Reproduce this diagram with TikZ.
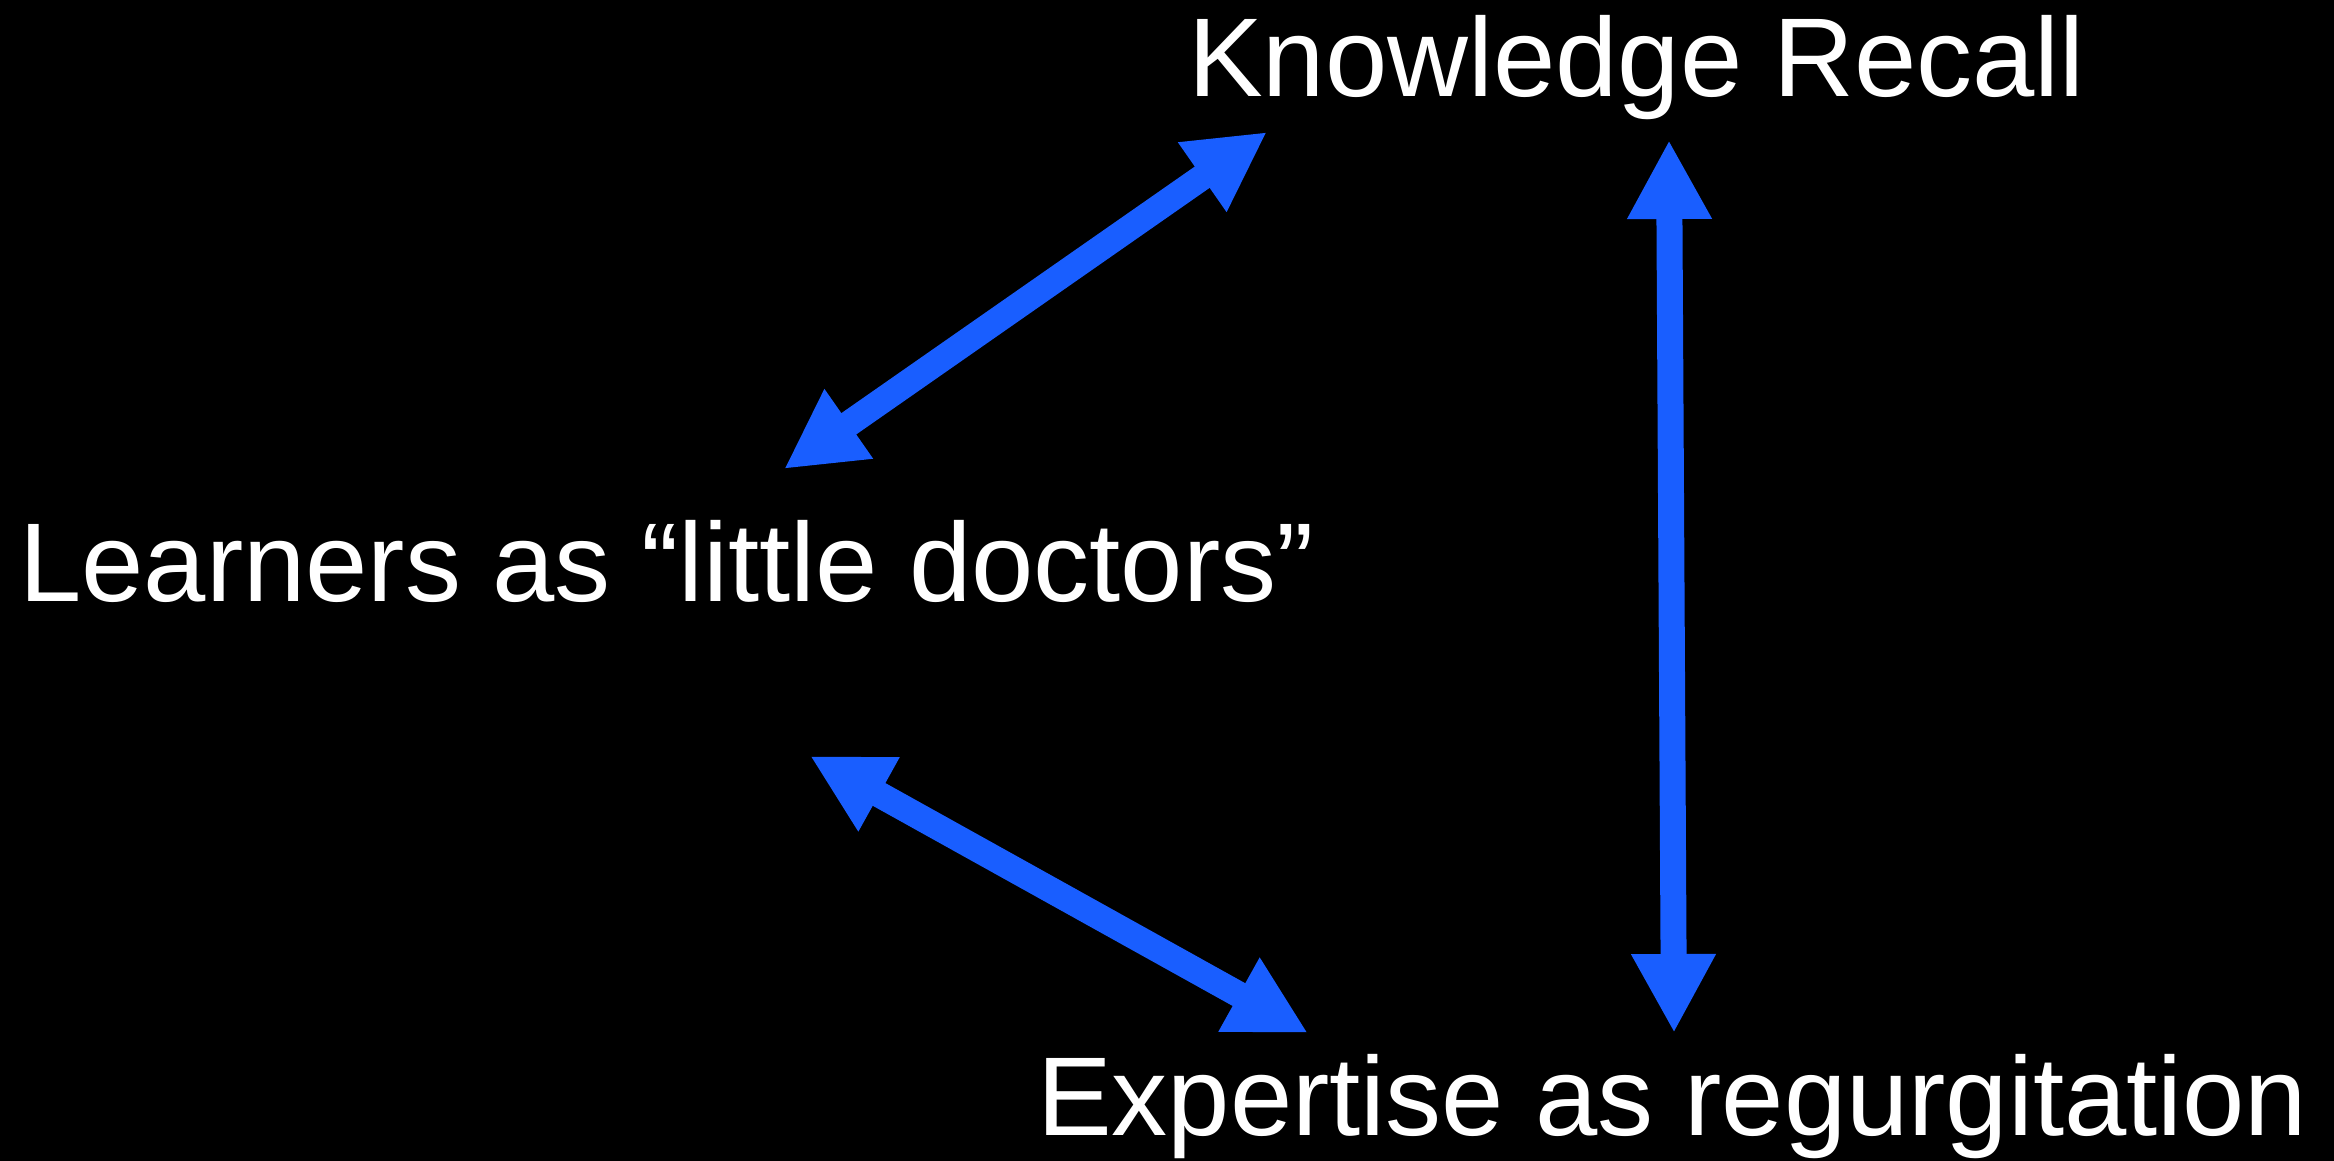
\documentclass[tikz,border=0pt]{standalone}
\usepackage{fontspec}
\setmainfont{Liberation Sans}
\usetikzlibrary{arrows.meta}
\definecolor{arrowblue}{RGB}{25,94,255}
\begin{document}
\begin{tikzpicture}[x=1pt,y=-1pt,
  lbl/.style={text=white, font=\fontsize{112}{134}\selectfont, inner sep=0pt, anchor=base west},
  link/.style={draw=arrowblue, line width=26pt,
    {Triangle[width=79pt,length=79pt]}-{Triangle[width=79pt,length=79pt]}}]
\fill[black] (0,0) rectangle (2334,1161);
\useasboundingbox (0,0) rectangle (2334,1161);
\node[lbl] (kr) at (1188,97) {Knowledge Recall};
\node[lbl] (ld) at (19,601) {Learners as “little doctors”};
\node[lbl] (er) at (1037,1135) {Expertise as regurgitation};
\coordinate (ldUp) at (784,469);
\coordinate (krLeft) at (1267,132);
\coordinate (krDown) at (1669,140);
\coordinate (erUp) at (1674,1033);
\coordinate (ldDown) at (810,756);
\coordinate (erLeft) at (1308,1033);
\draw[link] (ldUp) -- (krLeft);
\draw[link] (krDown) -- (erUp);
\draw[link] (ldDown) -- (erLeft);
\end{tikzpicture}
\end{document}
